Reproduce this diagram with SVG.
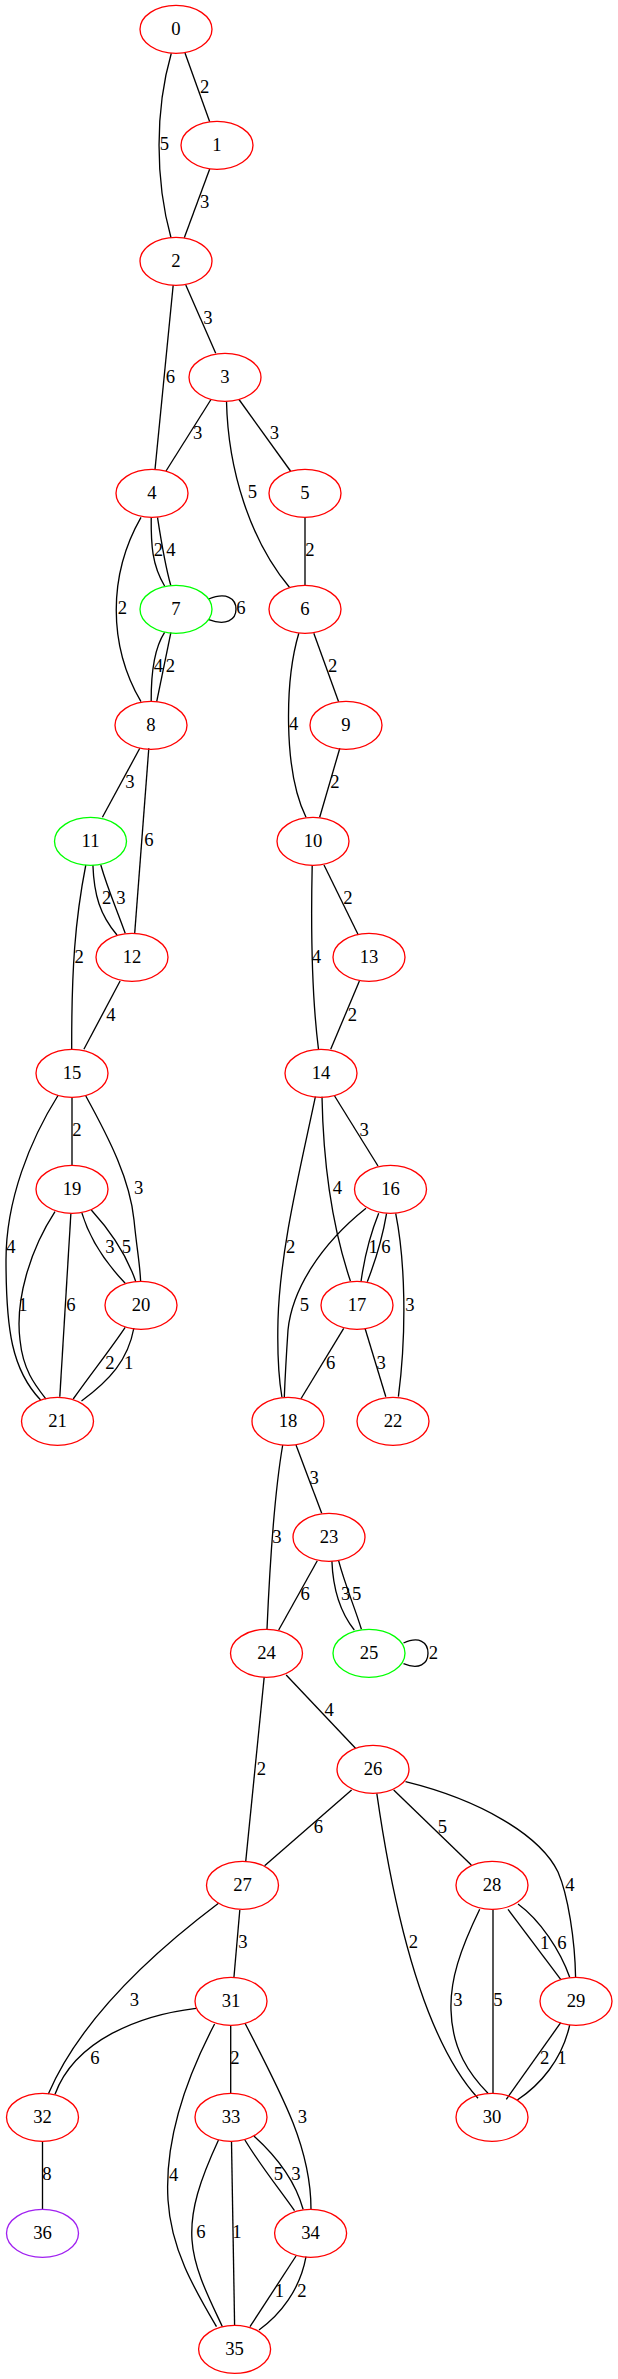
<svg xmlns="http://www.w3.org/2000/svg" width="618" height="2379" viewBox="0 0 618 2379">
<style>
.n ellipse{fill:none;stroke:#ff0000;stroke-width:1.33}
.g ellipse{stroke:#00ff00}
.p ellipse{stroke:#a020f0}
text{font-family:"Liberation Serif","Times New Roman",serif;font-size:18.67px;text-anchor:middle;fill:#000}
#edges path{fill:none;stroke:#000;stroke-width:1.33}
</style>
<rect width="618" height="2379" fill="#fff"/>
<g id="edges">
<path d="M185,53 L209.7,121.7"/><text x="204.7" y="93.3">2</text>
<path d="M171.3,53.3 C155,110 155,180 171,237.7"/><text x="164.3" y="150.3">5</text>
<path d="M209.7,169 L184.3,237.7"/><text x="204.7" y="208.3">3</text>
<path d="M185.8,285 L215.7,353.3"/><text x="208" y="324">3</text>
<path d="M173.2,285 L155,469.5"/><text x="170.5" y="382.7">6</text>
<path d="M211,399.5 L166,471"/><text x="197.6" y="439">3</text>
<path d="M239,399.5 L290.5,471"/><text x="274.4" y="439">3</text>
<path d="M226.5,401.3 C228,470 250,540 289.4,587.3"/><text x="252.4" y="497.7">5</text>
<path d="M151.2,517.3 C151,545 152,565 164.6,586"/><text x="158.3" y="556">2</text>
<path d="M157.5,517.3 C161,540 165,565 170.8,585.5"/><text x="170.9" y="556">4</text>
<path d="M141,517.3 C108,575 108,645 141,701.7"/><text x="122.4" y="614.3">2</text>
<path d="M208.7,599 C226,592 236,598 236,609.3 C236,620 226,626 208.7,619.7"/><text x="241" y="614.3">6</text>
<path d="M305,517.3 L305,585.3"/><text x="309.8" y="556">2</text>
<path d="M164.6,632.3 C153,650 151,680 151.2,701.7"/><text x="158.3" y="671.7">4</text>
<path d="M170.9,632.3 L156.7,701.7"/><text x="170.5" y="671.7">2</text>
<path d="M313.8,633.3 L338.6,701.7"/><text x="332.7" y="671.7">2</text>
<path d="M298.8,633.3 C285,680 283,770 306,817.3"/><text x="293.7" y="730">4</text>
<path d="M139.8,748.3 L102.4,817.3"/><text x="130" y="787.7">3</text>
<path d="M148.8,748.3 L134.7,933.3"/><text x="148.8" y="846">6</text>
<path d="M339.8,748.3 L319.7,817.3"/><text x="335" y="787.7">2</text>
<path d="M92.9,865 C94,895 100,915 117,935"/><text x="106.7" y="904.3">2</text>
<path d="M100.8,865 C108,890 117,910 125.2,933.3"/><text x="120.9" y="904.3">3</text>
<path d="M85.8,865 C75,920 71.5,970 71.7,1049.3"/><text x="79.1" y="962.7">2</text>
<path d="M120.1,981 L83.9,1049.3"/><text x="111" y="1021">4</text>
<path d="M324,865 L358.3,935"/><text x="348" y="904.3">2</text>
<path d="M312.2,865 C311,920 311,990 318.5,1049.3"/><text x="316.5" y="962.7">4</text>
<path d="M359.4,981 L330.7,1049.3"/><text x="352.4" y="1021">2</text>
<path d="M72,1097.3 L72,1165.3"/><text x="76.8" y="1136">2</text>
<path d="M58.3,1095 C30,1140 6,1200 6,1260 C6,1330 12,1370 40.6,1400"/><text x="11" y="1252.7">4</text>
<path d="M85.8,1096 C110,1140 130,1180 134,1220 C137,1250 140,1265 140.6,1281"/><text x="138.6" y="1194.3">3</text>
<path d="M334.6,1096 L378,1166"/><text x="364.2" y="1136">3</text>
<path d="M322,1096.7 C323,1150 330,1220 350.4,1281"/><text x="337.4" y="1194.3">4</text>
<path d="M315.4,1096.7 C300,1170 280,1250 278,1320 C277,1360 279,1380 281.9,1397"/><text x="290.6" y="1252.7">2</text>
<path d="M81.9,1213 C90,1240 105,1262 125.2,1283.3"/><text x="109.8" y="1252.7">3</text>
<path d="M91.3,1210 C105,1225 125,1250 135.8,1281.7"/><text x="126.4" y="1252.7">5</text>
<path d="M55,1211.7 C30,1250 15,1300 20,1340 C23,1370 35,1385 46,1399"/><text x="22.8" y="1311">1</text>
<path d="M70.9,1213.3 L59.8,1396.7"/><text x="70.9" y="1311">6</text>
<path d="M125.2,1327.3 C110,1350 90,1375 73.2,1399"/><text x="109.8" y="1368.7">2</text>
<path d="M133.9,1328 C128,1360 110,1380 81.5,1401"/><text x="128.7" y="1368.7">1</text>
<path d="M378.7,1213.3 C370,1235 364,1260 361,1281.7"/><text x="373.2" y="1252.7">1</text>
<path d="M386.6,1213.3 C382,1240 375,1262 367.3,1281.7"/><text x="385.8" y="1252.7">6</text>
<path d="M366,1208.3 C320,1245 292,1290 288,1330 C286,1360 285,1380 284.3,1397.3"/><text x="304.3" y="1311">5</text>
<path d="M395.7,1213.3 C405,1260 407,1330 398.4,1396.7"/><text x="409.8" y="1311">3</text>
<path d="M343.7,1328.3 L300.8,1399"/><text x="330.7" y="1368.7">6</text>
<path d="M365,1328.3 L385.8,1396.7"/><text x="381.1" y="1368.7">3</text>
<path d="M296,1445 L321.7,1513.3"/><text x="314.2" y="1484.3">3</text>
<path d="M282.7,1445 C275,1490 270,1560 267,1629.3"/><text x="276.8" y="1542.7">3</text>
<path d="M317.3,1560.7 L278.7,1630"/><text x="305.1" y="1600">6</text>
<path d="M331.9,1561 C333,1590 340,1612 354.3,1630"/><text x="345.7" y="1600">3</text>
<path d="M338.6,1560.7 C345,1585 355,1608 361.4,1629.3"/><text x="356.7" y="1600">5</text>
<path d="M403.5,1643 C419,1636 428,1642 428,1653.3 C428,1664 419,1670 403.5,1663.7"/><text x="433.5" y="1658.7">2</text>
<path d="M286.2,1675 L355.5,1748.3"/><text x="329.1" y="1716">4</text>
<path d="M264.2,1677 L245.7,1861.7"/><text x="261.4" y="1775">2</text>
<path d="M351.6,1790 L264.6,1865.7"/><text x="318.5" y="1832.7">6</text>
<path d="M393.7,1790 L471.3,1865"/><text x="442.5" y="1832.7">5</text>
<path d="M376.8,1793.3 C395,1920 425,2040 478,2098.3"/><text x="413.4" y="1948.3">2</text>
<path d="M405.5,1781.7 C480,1800 540,1835 558,1872 C568,1895 575,1940 575.6,1977.7"/><text x="570" y="1891">4</text>
<path d="M239.8,1910 L233.9,1977.7"/><text x="243" y="1948.3">3</text>
<path d="M218.5,1903.3 C150,1955 80,2020 48.3,2094"/><text x="134.3" y="2006">3</text>
<path d="M479.7,1909.3 C460,1950 450,1980 451,2010 C452,2050 470,2075 488,2093.3"/><text x="458" y="2006">3</text>
<path d="M493,1909.3 L493,2093.3"/><text x="498" y="2006">5</text>
<path d="M508,1909.3 L560.7,1979.3"/><text x="544.7" y="1948.7">1</text>
<path d="M518,1904 C540,1920 560,1950 569.7,1977.3"/><text x="562" y="1948.7">6</text>
<path d="M196,2008.3 C140,2015 75,2040 55,2094.3"/><text x="95" y="2064.3">6</text>
<path d="M230.7,2025.3 L230.7,2093.3"/><text x="235" y="2064.3">2</text>
<path d="M245,2023.3 C285,2100 311,2150 311,2209.3"/><text x="302.4" y="2122.7">3</text>
<path d="M214.6,2024 C180,2090 165,2150 168,2200 C171,2250 195,2290 216.5,2326.7"/><text x="173.6" y="2181">4</text>
<path d="M560.7,2022.7 L506.3,2099.3"/><text x="544.7" y="2064.3">2</text>
<path d="M569.7,2025 C562,2060 540,2085 517.3,2100"/><text x="562" y="2064.3">1</text>
<path d="M42.5,2141.3 L42.5,2209.3"/><text x="46.9" y="2180.3">8</text>
<path d="M244.9,2140 C260,2165 280,2190 294.5,2210.7"/><text x="278.3" y="2180.3">5</text>
<path d="M253.9,2136 C275,2155 295,2180 303.1,2209.3"/><text x="296" y="2180.3">3</text>
<path d="M218.5,2140 C200,2180 190,2210 192,2240 C194,2270 210,2300 222.4,2326.7"/><text x="200.8" y="2238.3">6</text>
<path d="M231.5,2141.7 L234.6,2325.3"/><text x="237" y="2238.3">1</text>
<path d="M296,2256 L250,2326.7"/><text x="279.5" y="2296.7">1</text>
<path d="M306,2256.7 C300,2290 280,2315 259,2330"/><text x="302" y="2296.7">2</text>
</g>
<g id="node0" class="n"><ellipse cx="176" cy="29.3" rx="36" ry="24"/><text x="176" y="34.9">0</text></g>
<g id="node1" class="n"><ellipse cx="217" cy="145.3" rx="36" ry="24"/><text x="217" y="150.9">1</text></g>
<g id="node2" class="n"><ellipse cx="176" cy="261.3" rx="36" ry="24"/><text x="176" y="266.9">2</text></g>
<g id="node3" class="n"><ellipse cx="225" cy="377.3" rx="36" ry="24"/><text x="225" y="382.9">3</text></g>
<g id="node4" class="n"><ellipse cx="152" cy="493.3" rx="36" ry="24"/><text x="152" y="498.9">4</text></g>
<g id="node5" class="n"><ellipse cx="305" cy="493.3" rx="36" ry="24"/><text x="305" y="498.9">5</text></g>
<g id="node6" class="n"><ellipse cx="305" cy="609.3" rx="36" ry="24"/><text x="305" y="614.9">6</text></g>
<g id="node7" class="n g"><ellipse cx="176" cy="609.3" rx="36" ry="24"/><text x="176" y="614.9">7</text></g>
<g id="node8" class="n"><ellipse cx="151" cy="725.3" rx="36" ry="24"/><text x="151" y="730.9">8</text></g>
<g id="node9" class="n"><ellipse cx="346" cy="725.3" rx="36" ry="24"/><text x="346" y="730.9">9</text></g>
<g id="node10" class="n"><ellipse cx="313" cy="841.3" rx="36" ry="24"/><text x="313" y="846.9">10</text></g>
<g id="node11" class="n g"><ellipse cx="90.5" cy="841.3" rx="36" ry="24"/><text x="90.5" y="846.9">11</text></g>
<g id="node12" class="n"><ellipse cx="132" cy="957.3" rx="36" ry="24"/><text x="132" y="962.9">12</text></g>
<g id="node13" class="n"><ellipse cx="369" cy="957.3" rx="36" ry="24"/><text x="369" y="962.9">13</text></g>
<g id="node14" class="n"><ellipse cx="321" cy="1073.3" rx="36" ry="24"/><text x="321" y="1078.9">14</text></g>
<g id="node15" class="n"><ellipse cx="72" cy="1073.3" rx="36" ry="24"/><text x="72" y="1078.9">15</text></g>
<g id="node16" class="n"><ellipse cx="390.5" cy="1189.3" rx="36" ry="24"/><text x="390.5" y="1194.9">16</text></g>
<g id="node17" class="n"><ellipse cx="357" cy="1305.3" rx="36" ry="24"/><text x="357" y="1310.9">17</text></g>
<g id="node18" class="n"><ellipse cx="288" cy="1421.3" rx="36" ry="24"/><text x="288" y="1426.9">18</text></g>
<g id="node19" class="n"><ellipse cx="72" cy="1189.3" rx="36" ry="24"/><text x="72" y="1194.9">19</text></g>
<g id="node20" class="n"><ellipse cx="141" cy="1305.3" rx="36" ry="24"/><text x="141" y="1310.9">20</text></g>
<g id="node21" class="n"><ellipse cx="57.5" cy="1421.3" rx="36" ry="24"/><text x="57.5" y="1426.9">21</text></g>
<g id="node22" class="n"><ellipse cx="393" cy="1421.3" rx="36" ry="24"/><text x="393" y="1426.9">22</text></g>
<g id="node23" class="n"><ellipse cx="329" cy="1537.3" rx="36" ry="24"/><text x="329" y="1542.9">23</text></g>
<g id="node24" class="n"><ellipse cx="266.5" cy="1653.3" rx="36" ry="24"/><text x="266.5" y="1658.9">24</text></g>
<g id="node25" class="n g"><ellipse cx="369" cy="1653.3" rx="36" ry="24"/><text x="369" y="1658.9">25</text></g>
<g id="node26" class="n"><ellipse cx="373" cy="1769.3" rx="36" ry="24"/><text x="373" y="1774.9">26</text></g>
<g id="node27" class="n"><ellipse cx="242.5" cy="1885.3" rx="36" ry="24"/><text x="242.5" y="1890.9">27</text></g>
<g id="node28" class="n"><ellipse cx="492" cy="1885.3" rx="36" ry="24"/><text x="492" y="1890.9">28</text></g>
<g id="node29" class="n"><ellipse cx="576" cy="2001.3" rx="36" ry="24"/><text x="576" y="2006.9">29</text></g>
<g id="node30" class="n"><ellipse cx="492" cy="2117.3" rx="36" ry="24"/><text x="492" y="2122.9">30</text></g>
<g id="node31" class="n"><ellipse cx="231" cy="2001.3" rx="36" ry="24"/><text x="231" y="2006.9">31</text></g>
<g id="node32" class="n"><ellipse cx="42.5" cy="2117.3" rx="36" ry="24"/><text x="42.5" y="2122.9">32</text></g>
<g id="node33" class="n"><ellipse cx="231" cy="2117.3" rx="36" ry="24"/><text x="231" y="2122.9">33</text></g>
<g id="node34" class="n"><ellipse cx="310.6" cy="2233.3" rx="36" ry="24"/><text x="310.6" y="2238.9">34</text></g>
<g id="node35" class="n"><ellipse cx="234.6" cy="2349.3" rx="36" ry="24"/><text x="234.6" y="2354.9">35</text></g>
<g id="node36" class="n p"><ellipse cx="42.5" cy="2233.3" rx="36" ry="24"/><text x="42.5" y="2238.9">36</text></g>
</svg>
